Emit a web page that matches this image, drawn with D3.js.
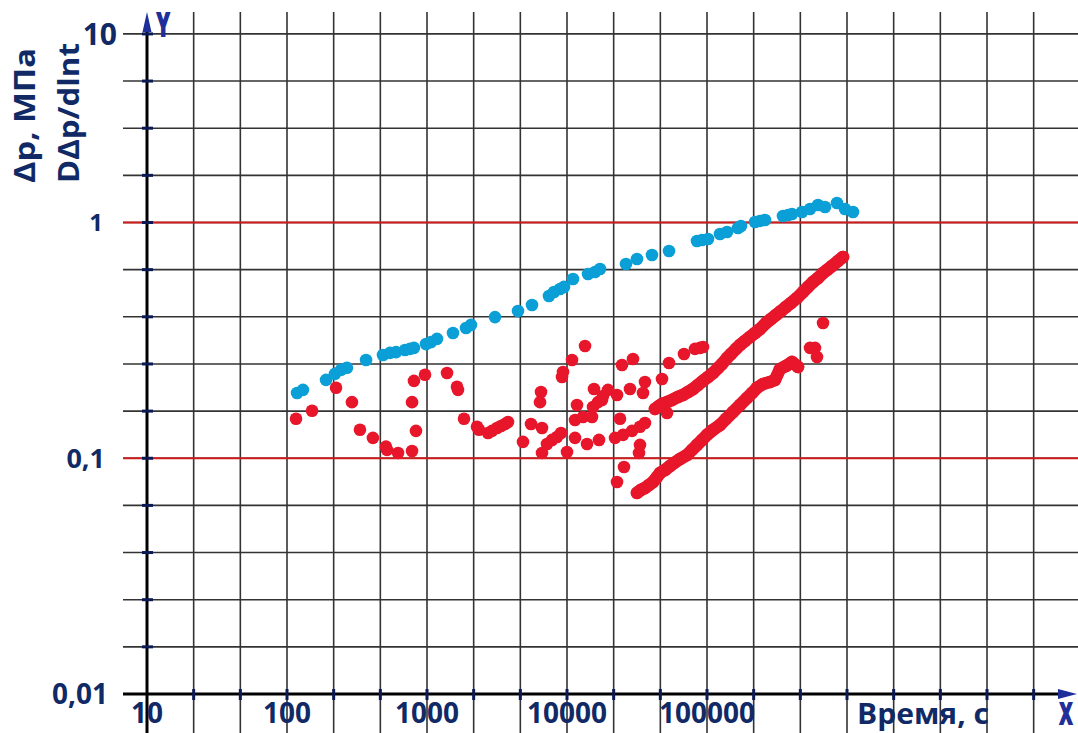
<!DOCTYPE html>
<html>
<head>
<meta charset="utf-8">
<script src="https://cdn.jsdelivr.net/npm/d3@7"></script>
<style>
  html, body { margin: 0; padding: 0; background: #fff; }
  svg { display: block; font-family: 'Open Sans', 'Noto Sans', sans-serif; font-weight: bold; }
</style>
</head>
<body>
<svg id="chart" width="1078" height="733"></svg>
<script>
// time, s  /  value, MPa
var deltaP = [
  [118, 0.189], [130, 0.195], [190, 0.215], [220, 0.228], [243, 0.237], [268, 0.242],
  [367, 0.261], [485, 0.274], [544, 0.280], [601, 0.282], [697, 0.288], [756, 0.291],
  [807, 0.294], [984, 0.305], [1068, 0.311], [1179, 0.321], [1533, 0.340], [1900, 0.357],
  [2062, 0.368], [3059, 0.397], [4467, 0.421], [5623, 0.447], [7434, 0.488], [8073, 0.507],
  [8913, 0.522], [9519, 0.533], [11040, 0.576], [14130, 0.605], [15850, 0.617], [17210, 0.635],
  [26390, 0.667], [31620, 0.700], [40460, 0.728], [53540, 0.757], [84830, 0.835], [92120, 0.843],
  [101700, 0.851], [123800, 0.894], [139000, 0.912], [166500, 0.948], [174900, 0.966],
  [220300, 1.005], [239100, 1.015], [259600, 1.025], [349100, 1.066], [378900, 1.076],
  [404600, 1.086], [477100, 1.108], [544100, 1.141], [620700, 1.186], [696600, 1.163],
  [848300, 1.210], [967600, 1.141], [1104000, 1.108]
]

var derivScatter = [
  [116, 0.147], [151, 0.159], [224, 0.199], [291, 0.173], [332, 0.132], [411, 0.122],
  [509, 0.112], [518, 0.1085], [621, 0.1053], [782, 0.1074], [834, 0.1306], [782, 0.173],
  [807, 0.213], [968, 0.226], [1390, 0.230], [1638, 0.201], [1665, 0.195], [1838, 0.147],
  [2276, 0.136], [2352, 0.132], [2727, 0.128], [2913, 0.1306], [3162, 0.1344], [3378, 0.1371],
  [3606, 0.1398], [3789, 0.1425], [4850, 0.1173], [5533, 0.1398], [6522, 0.191], [6415, 0.173],
  [6629, 0.1344], [6629, 0.1053], [7197, 0.115], [7816, 0.1196], [8483, 0.1231], [9060, 0.128],
  [9212, 0.2212], [9364, 0.2323], [10000, 0.1063], [10860, 0.261], [11410, 0.122], [11410, 0.1453],
  [11790, 0.1683], [13010, 0.1497], [13450, 0.2994], [13900, 0.115], [15090, 0.1497], [15340, 0.165],
  [15590, 0.1967], [16650, 0.173], [16930, 0.1196], [17780, 0.1767], [18080, 0.1838], [19630, 0.195],
  [22760, 0.1856], [22030, 0.122], [23910, 0.147], [24710, 0.2487], [25120, 0.1256], [28180, 0.1967],
  [29130, 0.1306], [29610, 0.2637], [33210, 0.136], [33210, 0.1139], [32680, 0.1053], [34910, 0.189],
  [36060, 0.2106], [36060, 0.1411], [25530, 0.0918], [22760, 0.0793], [47710, 0.2169], [53540, 0.2536],
  [68490, 0.2769], [82080, 0.291], [89130, 0.294], [93640, 0.2965], [51790, 0.1556],
  [544100, 0.294], [590700, 0.294], [610500, 0.2689], [674100, 0.3748]
]

var derivUpper = [
  [42520, 0.1619], [45410, 0.1667], [47710, 0.170], [51790, 0.173], [56230, 0.1767], [62070, 0.182],
  [67410, 0.1856], [73170, 0.191], [79430, 0.1967], [86250, 0.2046], [93640, 0.213], [101700, 0.2212],
  [110400, 0.230], [119800, 0.2415], [128000, 0.2511], [139000, 0.2663], [148400, 0.2769],
  [161100, 0.291], [172100, 0.3023], [186800, 0.3145], [202800, 0.327], [220300, 0.340],
  [239100, 0.3534], [263900, 0.3748], [286500, 0.3897], [311100, 0.4052], [337800, 0.421],
  [366600, 0.4383], [398100, 0.4557], [439500, 0.4785], [485000, 0.507], [526500, 0.533],
  [571600, 0.5594], [620700, 0.5816], [674100, 0.6107], [719700, 0.629], [781600, 0.654],
  [862500, 0.6865], [936400, 0.714]
]

var derivLower = [
  [31620, 0.0713], [33780, 0.0734], [36060, 0.0748], [38500, 0.0770], [41150, 0.0793], [43950, 0.0833],
  [46170, 0.0866], [50120, 0.0892], [54410, 0.0927], [58110, 0.0955], [64150, 0.0993], [71970, 0.1033],
  [78160, 0.1085], [84830, 0.1139], [92120, 0.1196], [100000, 0.1256], [110400, 0.132], [123800, 0.1384],
  [136800, 0.147], [153300, 0.1572], [172100, 0.1683], [193100, 0.1802], [209700, 0.189], [227600, 0.199],
  [251200, 0.2066], [281800, 0.2106], [305900, 0.2148], [332200, 0.2391], [366600, 0.2463],
  [404600, 0.2561], [446700, 0.2439]
]

var xTicks = [10, 100, 1000, 10000, 100000]
var xTickLabels = ['10', '100', '1000', '10000', '100000']
// the source writes "10" on its top gridline
var yTicks = [0.01, 0.1, 1, Math.pow(10, 0.8)]
var yTickLabels = ['0,01', '0,1', '1', '10']
var redLines = [0.1, 1]
var xTitle = 'Время, с'
var yTitle = ['Δp, МПа', 'DΔp/dlnt']

var navy = '#112a66'
var arrowBlue = '#1f2f9a'
var blue = '#0a9fd6'
var red = '#e8162a'

var svg = d3.select('#chart')
var W = 1078, H = 733

var x = d3.scaleLog().domain([10, 1e5]).range([147, 707])
var y = d3.scaleLog().domain([0.01, 1]).range([694, 222.5])

// grid: 3 lines per decade on x, 5 per decade on y
var xGrid = d3.range(1, 20).map(function (k) { return Math.pow(10, 1 + k / 3) })
var yGrid = d3.range(1, 15).map(function (k) { return Math.pow(10, -2 + k / 5) })

var grid = svg.append('g')
grid.selectAll('.vg').data(xGrid).enter().append('line')
  .attr('x1', function (d) { return x(d) }).attr('x2', function (d) { return x(d) })
  .attr('y1', 12).attr('y2', H)
  .attr('stroke', '#333').attr('stroke-width', 1.6)
grid.selectAll('.hg').data(yGrid).enter().append('line')
  .attr('x1', 123).attr('x2', W)
  .attr('y1', function (d) { return y(d) }).attr('y2', function (d) { return y(d) })
  .attr('stroke', '#333').attr('stroke-width', 1.6)
grid.selectAll('.rl').data(redLines).enter().append('line')
  .attr('x1', 123).attr('x2', W)
  .attr('y1', function (d) { return y(d) }).attr('y2', function (d) { return y(d) })
  .attr('stroke', '#d01c1c').attr('stroke-width', 2)

// axes
var x0 = x(10), y0 = y(0.01)
svg.append('line').attr('x1', x0).attr('x2', x0).attr('y1', 20).attr('y2', H)
  .attr('stroke', '#000').attr('stroke-width', 3)
svg.append('line').attr('x1', 123).attr('x2', 1062).attr('y1', y0).attr('y2', y0)
  .attr('stroke', '#000').attr('stroke-width', 3)

svg.selectAll('.xt').data(xGrid).enter().append('line')
  .attr('x1', function (d) { return x(d) }).attr('x2', function (d) { return x(d) })
  .attr('y1', y0 - 5).attr('y2', y0 + 6)
  .attr('stroke', '#0b1a55').attr('stroke-width', 3)
svg.selectAll('.yt').data(yGrid).enter().append('line')
  .attr('x1', x0 - 5).attr('x2', x0 + 6)
  .attr('y1', function (d) { return y(d) }).attr('y2', function (d) { return y(d) })
  .attr('stroke', '#0b1a55').attr('stroke-width', 3)

svg.append('path').attr('d', 'M' + x0 + ',12 L' + (x0 + 4.5) + ',32 L' + (x0 - 4.5) + ',32 Z')
  .attr('fill', arrowBlue)
svg.append('path').attr('d', 'M1077,' + y0 + ' L1058,' + (y0 - 5) + ' L1058,' + (y0 + 5) + ' Z')
  .attr('fill', arrowBlue)

svg.append('text').attr('transform', 'translate(157,36) scale(0.62,1)')
  .attr('font-size', 32).attr('fill', arrowBlue)
  .attr('stroke', arrowBlue).attr('stroke-width', 2.2).text('Y')
svg.append('text').attr('transform', 'translate(1066,724) scale(0.62,1)')
  .attr('text-anchor', 'middle')
  .attr('font-size', 29).attr('fill', arrowBlue)
  .attr('stroke', arrowBlue).attr('stroke-width', 2.2).text('X')

// data
function drawDots (data, color) {
  svg.append('g').selectAll('circle').data(data).enter().append('circle')
    .attr('cx', function (d) { return x(d[0]) })
    .attr('cy', function (d) { return y(d[1]) })
    .attr('r', 6.3)
    .attr('fill', color)
}
function drawBand (data, color) {
  svg.append('path').datum(data)
    .attr('d', d3.line().x(function (d) { return x(d[0]) }).y(function (d) { return y(d[1]) }))
    .attr('fill', 'none').attr('stroke', color).attr('stroke-width', 12.6)
    .attr('stroke-linecap', 'round').attr('stroke-linejoin', 'round')
  drawDots(data, color)
}
drawDots(deltaP, blue)
drawDots(derivScatter, red)
drawBand(derivUpper, red)
drawBand(derivLower, red)

// labels
svg.selectAll('.xl').data(xTicks).enter().append('text')
  .attr('x', function (d) { return x(d) }).attr('y', 723)
  .attr('text-anchor', 'middle').attr('font-size', 28).attr('fill', navy)
  .text(function (d, i) { return xTickLabels[i] })

var yLabelSize = [28, 27, 24, 30]
var yLabelRight = [108, 105, 103, 117]
svg.selectAll('.yl').data(yTicks).enter().append('text')
  .attr('x', function (d, i) { return yLabelRight[i] })
  .attr('y', function (d) { return y(d) })
  .attr('dy', '0.36em')
  .attr('text-anchor', 'end').attr('fill', navy)
  .attr('font-size', function (d, i) { return yLabelSize[i] })
  .text(function (d, i) { return yTickLabels[i] })

svg.append('text').attr('x', 857).attr('y', 724).attr('font-size', 28).attr('fill', navy)
  .attr('textLength', 132).attr('lengthAdjust', 'spacingAndGlyphs').text(xTitle)

var yTitleLength = [135, 140]
svg.selectAll('.yti').data(yTitle).enter().append('text')
  .attr('transform', function (d, i) { return 'translate(' + (35 + i * 44) + ',183) rotate(-90)' })
  .attr('font-size', 28).attr('fill', navy)
  .attr('textLength', function (d, i) { return yTitleLength[i] })
  .attr('lengthAdjust', 'spacingAndGlyphs')
  .text(function (d) { return d })
</script>
</body>
</html>
